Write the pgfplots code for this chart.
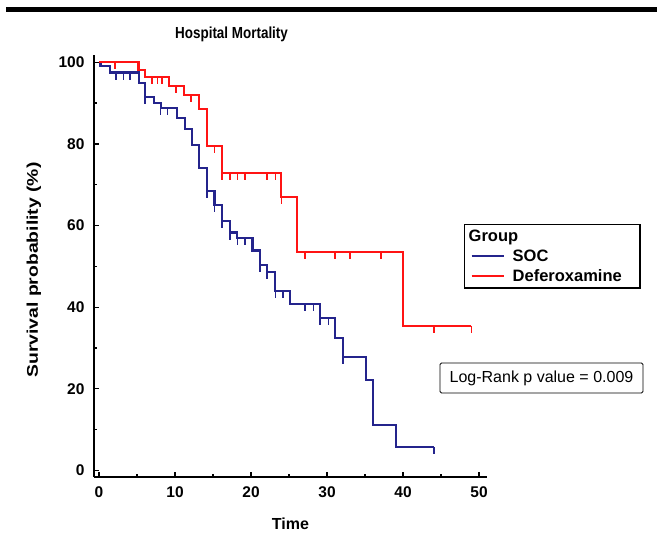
\documentclass[border=0pt]{standalone}
\usepackage{fontspec}
\setmainfont{Liberation Sans}
\usepackage{pgfplots}
\pgfplotsset{compat=1.18}
\definecolor{socblue}{RGB}{36,36,140}
\definecolor{defred}{RGB}{255,20,20}
\pgfdeclareplotmark{cens}{\pgfpathmoveto{\pgfpointorigin}\pgfpathlineto{\pgfpoint{0pt}{-7pt}}\pgfusepathqstroke}
\begin{document}
\begin{tikzpicture}[x=1pt,y=1pt]
\useasboundingbox (0,0) rectangle (657,534);
\draw[line width=4.4pt] (6,524.5) -- (657,524.5);
\begin{axis}[
  at={(94pt,57pt)}, anchor=south west,
  width=393pt, height=422pt, scale only axis,
  xmin=-0.66, xmax=51.05, ymin=-1.6, ymax=101.8,
  axis x line=bottom, axis y line=left,
  axis line style={line width=1.8pt, -},
  xtick={0,10,...,50}, ytick={0,20,...,100},
  minor xtick={5,15,...,45}, minor ytick={10,30,...,90},
  tick align=inside,
  major tick length=5pt, minor tick length=3pt,
  tick style={line width=1.3pt, black},
  ticklabel style={font=\fontsize{15.5}{18}\selectfont\bfseries},
  /pgf/number format/assume math mode=true,
  xticklabel style={yshift=-6pt},
  yticklabel style={xshift=-6pt},
  xlabel={Time}, ylabel={Survival probability (\%)},
  label style={font=\fontsize{16}{19}\selectfont\bfseries},
  xlabel style={at={(axis description cs:0.5,-0.1256)}, anchor=base},
  ylabel style={at={(axis description cs:-0.1527,0.4905)}, anchor=center, xscale=1.25, font=\fontsize{15.5}{19}\selectfont\bfseries},
  title={Hospital Mortality},
  title style={at={(axis description cs:0.35,1.0237)}, anchor=base, yshift=0pt, xscale=0.84, font=\fontsize{16}{19}\selectfont\bfseries},
  legend cell align=left,
  legend style={at={(axis description cs:0.9415,0.5995)}, anchor=north west,
    draw=black, line width=1.4pt, font=\fontsize{16.5}{19}\selectfont\bfseries,
    row sep=3pt, inner xsep=6pt, inner ysep=3pt,
    /tikz/every odd column/.append style={column sep=6pt}},
  legend image code/.code={\draw[#1,mark=none,line width=2pt] (0pt,0pt) -- (32pt,0pt);},
]
\addlegendimage{empty legend}
\addlegendentry{\hspace*{-44pt}Group}
\addplot[const plot, socblue, line width=2.1pt] coordinates {
(0,100) (0.2,99.0) (1.4,97.5) (5.3,94.9) (6.05,91.6) (7.2,90.1) (8.1,88.8)
(10.3,86.3) (11.3,83.6) (12.2,79.8) (13.1,74.1) (14.2,68.5) (15.2,65.1)
(16.2,61.2) (17.2,58.3) (18.2,56.9) (20.2,53.9) (21.2,50.4) (22.1,48.7)
(23.2,44.0) (25.1,40.8) (29.1,37.3) (31.05,32.4) (32.1,27.9) (35.1,22.2)
(36.0,11.2) (39.1,5.7) (44.1,5.7)};
\addlegendentry{SOC}
\addplot[only marks, mark=cens, socblue, mark options={line width=1.6pt}, forget plot] coordinates {
(2.2,97.5) (3.2,97.5) (4.1,97.5) (6.05,91.6) (8.1,88.8) (9.0,88.8)
(14.2,68.5) (15.2,65.1) (16.2,61.2) (17.2,58.3) (18.2,56.9) (19.2,56.9)
(21.2,50.4) (22.1,48.7) (23.2,44.0) (24.2,44.0) (27.1,40.8) (28.2,40.8)
(29.1,37.3) (30.2,37.3) (32.1,27.9) (44.1,5.7)};
\addplot[const plot, defred, line width=2.1pt] coordinates {
(0,100) (5.2,98.2) (6.0,96.5) (9.2,94.2) (11.2,92.0) (13.1,88.5) (14.2,79.4)
(16.2,72.8) (24.0,66.9) (26.1,53.6) (40.0,35.5) (49.0,35.5)};
\addlegendentry{Deferoxamine\hspace*{10pt}}
\addplot[only marks, mark=cens, defred, mark options={line width=1.6pt}, forget plot] coordinates {
(2.1,100) (7.0,96.5) (7.7,96.5) (8.3,96.5) (10.1,94.2) (12.1,92.0) (15.2,79.4)
(16.2,72.8) (17.2,72.8) (18.2,72.8) (19.2,72.8) (22.1,72.8) (23.2,72.8)
(24.0,66.9) (27.1,53.6) (31.05,53.6) (33.0,53.6) (37.1,53.6) (44.1,35.5) (49.0,35.5)};
\end{axis}
\node[draw=black, line width=0.9pt, rounded corners=1.5pt, minimum width=203pt,
  minimum height=30pt, inner sep=0pt, font=\fontsize{16}{19}\selectfont] at (541.5,156) {Log-Rank p value = 0.009};
\end{tikzpicture}
\end{document}
